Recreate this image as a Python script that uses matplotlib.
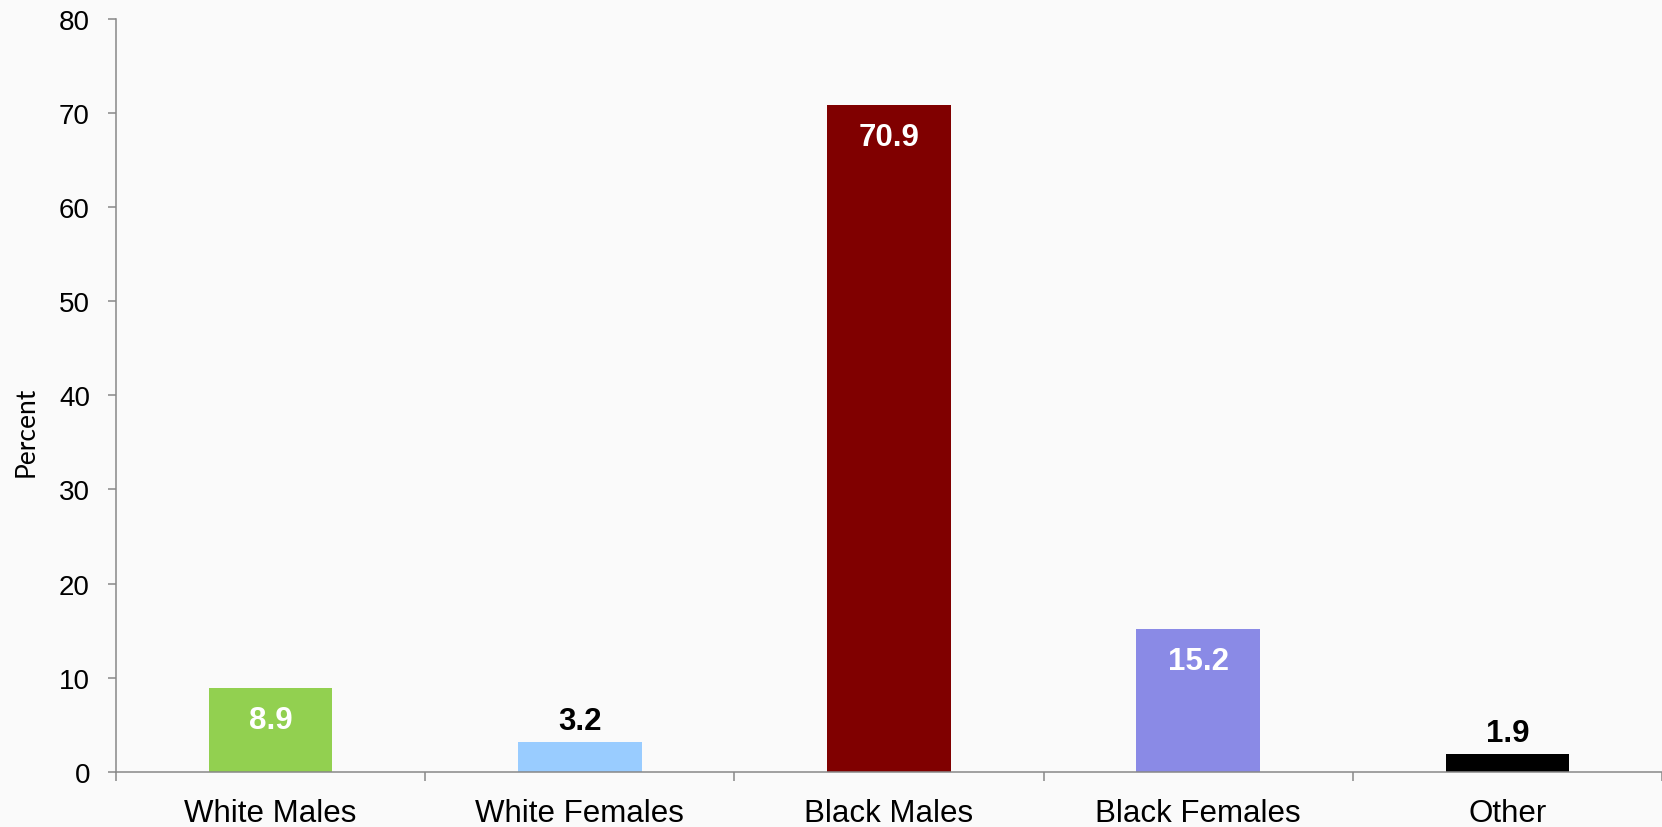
import matplotlib.pyplot as plt
import numpy as np

categories = ["White Males", "White Females", "Black Males", "Black Females", "Other"]
values = [8.9, 3.2, 70.9, 15.2, 1.9]
colors = ["#92d050", "#99ccff", "#800000", "#8a8ae6", "#000000"]
# labels drawn inside the bar (white) or above it (black)
inside = [True, False, True, True, False]
yticks = [0, 10, 20, 30, 40, 50, 60, 70, 80]

plt.rcParams['font.family'] = ['Liberation Sans', 'DejaVu Sans']

fig = plt.figure(figsize=(16.62, 8.28), dpi=100, facecolor="#fafafa")
ax = fig.add_axes([0.0698, 0.0668, 0.9302, 0.909])
ax.set_facecolor("#fafafa")

x = np.arange(len(categories))
bars = ax.bar(x, values, width=0.4, color=colors, zorder=2)

for b, v, ins in zip(bars, values, inside):
  cx = b.get_x() + b.get_width() / 2
  if ins:
    ax.annotate(f"{v}", (cx, v), xytext=(0, -23), textcoords="offset points",
                ha="center", va="center", color="white", fontsize=22.5, fontweight="bold")
  else:
    ax.annotate(f"{v}", (cx, v), xytext=(0, 4), textcoords="offset points",
                ha="center", va="bottom", color="black", fontsize=22.5, fontweight="bold")

ax.set_xlim(-0.5, 4.455)
ax.set_ylim(0, 80)
ax.set_yticks(yticks)
ax.set_xticks(x)
ax.set_xticklabels(categories, fontsize=22.5)
ax.set_xticks(np.arange(-0.5, 5, 1), minor=True)
ax.tick_params(axis="x", which="major", length=0, pad=19)
ax.tick_params(axis="x", which="minor", length=6.5, width=1.1, color="#888888")
ax.tick_params(axis="y", labelsize=20, length=5.8, width=1.1, color="#888888", pad=13)

for s in ["top", "right"]:
  ax.spines[s].set_visible(False)
for s in ["left", "bottom"]:
  ax.spines[s].set_color("#888888")
  ax.spines[s].set_linewidth(1.1)

fig.text(0.016, 0.478, "Percent", rotation=90, ha="center", va="center",
         fontsize=19, family=["Lato", "DejaVu Sans"])

fig.savefig("out.png", dpi=100, facecolor=fig.get_facecolor())
